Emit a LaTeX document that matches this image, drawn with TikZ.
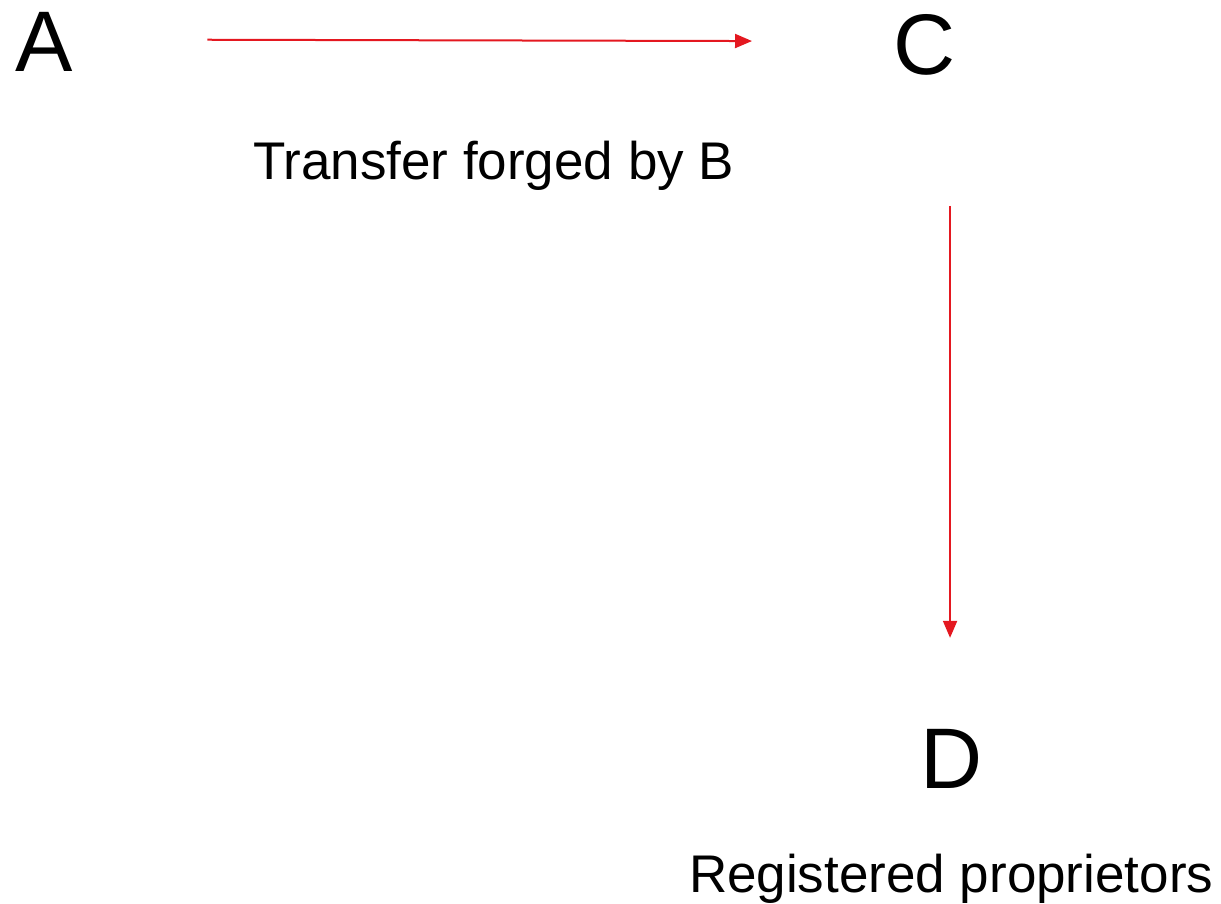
\documentclass[tikz,border=0pt]{standalone}
\usepackage{fontspec}
\setmainfont{Liberation Sans}
\usetikzlibrary{arrows.meta}
\definecolor{arrowred}{RGB}{228,24,32}
\tikzset{
  big/.style={inner sep=0pt, outer sep=0pt, anchor=base west, font=\fontsize{86}{86}\selectfont},
  lbl/.style={inner sep=0pt, outer sep=0pt, anchor=base west, font=\fontsize{53}{53}\selectfont},
  arr/.style={draw=arrowred, line width=2pt, -{Triangle[length=17pt,width=14pt]}}
}
\begin{document}
\begin{tikzpicture}[x=1pt,y=-1pt]
\useasboundingbox[fill=white] (0,0) rectangle (1221,904);
\node[big] (A) at (16,72) {A};
\node[big] (C) at (893,75) {C};
\node[big] (D) at (920,788) {D};
\node[lbl] (T) at (253,180) {Transfer forged by B};
\node[lbl] (R) at (689,892) {Registered proprietors};
\draw[arr, shorten <=134pt, shorten >=141pt] ([yshift=3pt]A.east) -- ([yshift=4pt]C.west);
\draw[arr, shorten <=130pt, shorten >=91pt] ([xshift=-1pt]C.south -| D.north) -- ([xshift=-1pt]D.north);
\end{tikzpicture}
\end{document}
